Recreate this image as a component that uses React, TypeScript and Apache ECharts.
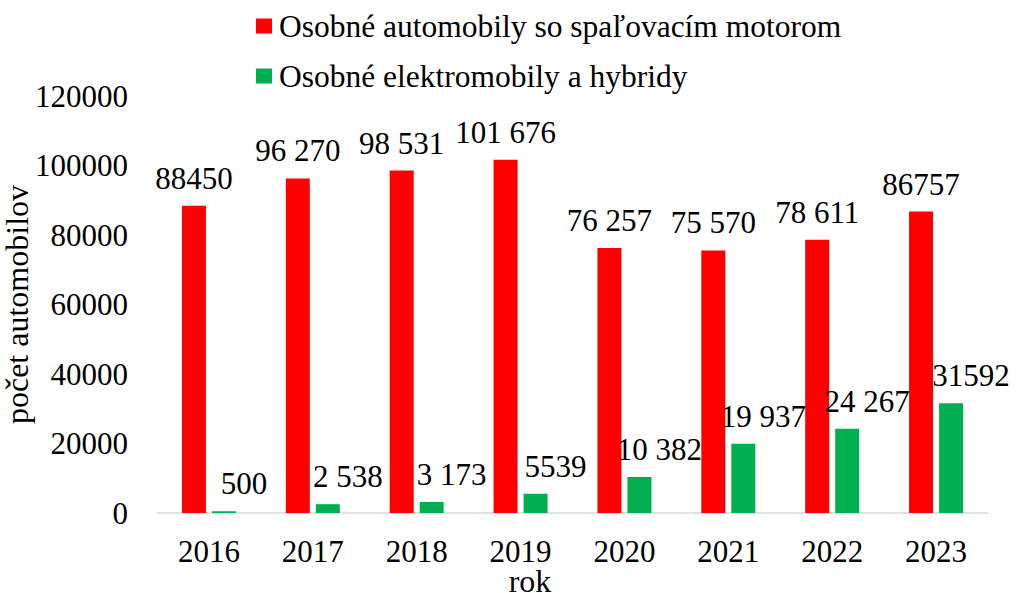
import React, { useEffect, useRef } from "react";
import * as echarts from "echarts";

const years = ["2016", "2017", "2018", "2019", "2020", "2021", "2022", "2023"];
const combustion = [88450, 96270, 98531, 101676, 76257, 75570, 78611, 86757];
const combustionLabels = ["88450", "96 270", "98 531", "101 676", "76 257", "75 570", "78 611", "86757"];
const electric = [500, 2538, 3173, 5539, 10382, 19937, 24267, 31592];
const electricLabels = ["500", "2 538", "3 173", "5539", "10 382", "19 937", "24 267", "31592"];
const seriesNames = ["Osobné automobily so spaľovacím motorom", "Osobné elektromobily a hybridy"];
const yTicks = { min: 0, max: 120000, interval: 20000 };

const FONT = "Liberation Serif";

export default function App() {
  const ref = useRef<HTMLDivElement>(null);
  useEffect(() => {
    if (!ref.current) return;
    const chart = echarts.init(ref.current, null, { renderer: "svg" });
    chart.setOption({
      animation: false,
      textStyle: { fontFamily: FONT, color: "#000" },
      legend: {
        orient: "vertical",
        left: 256,
        top: 10,
        padding: 0,
        itemGap: 18,
        itemWidth: 16,
        itemHeight: 15,
        icon: "rect",
        textStyle: { fontFamily: FONT, fontSize: 31.5, lineHeight: 32, color: "#000", padding: [0, 0, 0, 2] },
        data: seriesNames,
      },
      grid: { left: 157, right: 43, top: 96, bottom: 80, containLabel: false, outerBoundsMode: "none" },
      xAxis: {
        type: "category",
        data: years,
        name: "rok",
        nameLocation: "middle",
        nameGap: 56,
        nameMoveOverlap: false,
        nameTextStyle: { fontFamily: FONT, fontSize: 32, lineHeight: 24, color: "#000", padding: [0, 85, 0, 0] },
        axisLine: { lineStyle: { color: "#D9D9D9", width: 1.5 } },
        axisTick: { show: false },
        axisLabel: { fontFamily: FONT, fontSize: 31, lineHeight: 28, color: "#000", margin: 24 },
      },
      yAxis: {
        type: "value",
        min: yTicks.min,
        max: yTicks.max,
        interval: yTicks.interval,
        name: "počet automobilov",
        nameLocation: "middle",
        nameRotate: 90,
        nameGap: 124,
        nameMoveOverlap: false,
        nameTextStyle: { fontFamily: FONT, fontSize: 32, color: "#000" },
        axisLine: { show: false },
        axisTick: { show: false },
        splitLine: { show: false },
        axisLabel: { fontFamily: FONT, fontSize: 31, color: "#000", margin: 29, formatter: (v: number) => String(v) },
      },
      series: [
        {
          name: seriesNames[0],
          type: "bar",
          data: combustion,
          barWidth: 24,
          barGap: "25%",
          itemStyle: { color: "#FF0000" },
          label: {
            show: true,
            position: "top",
            distance: 12,
            fontFamily: FONT,
            fontSize: 31,
            color: "#000",
            formatter: (p: any) => combustionLabels[p.dataIndex],
          },
        },
        {
          name: seriesNames[1],
          type: "bar",
          data: electric,
          barWidth: 24,
          barGap: "25%",
          itemStyle: { color: "#00B050" },
          label: {
            show: true,
            position: "top",
            distance: 12,
            offset: [20, 0],
            fontFamily: FONT,
            fontSize: 31,
            color: "#000",
            formatter: (p: any) => electricLabels[p.dataIndex],
          },
        },
      ],
    });
    return () => chart.dispose();
  }, []);
  return <div ref={ref} style={{ width: 1031, height: 593, position: "absolute", left: 0, top: 0 }} />;
}
